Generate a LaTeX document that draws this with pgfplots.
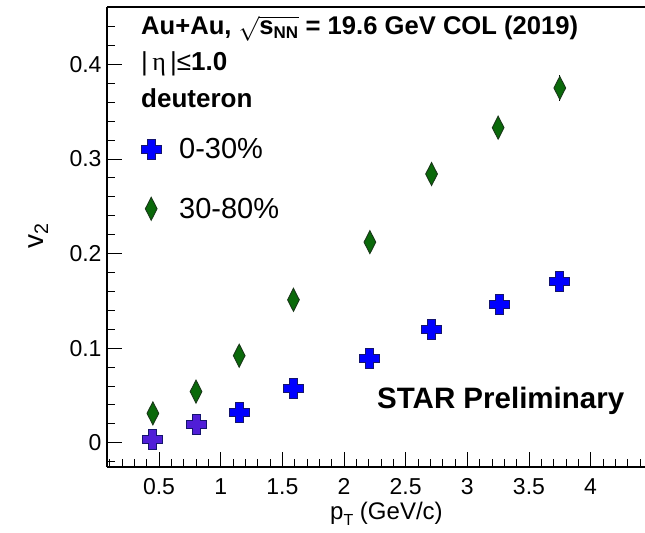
\documentclass[border=0pt]{standalone}
\usepackage{pgfplots}
\pgfplotsset{compat=1.18}
\usepackage{fontspec}
\setmainfont{Liberation Sans}
\newfontfamily\greekfont{Liberation Serif}

% filled cross outline (ROOT style marker)
\pgfdeclareplotmark{fullcross}{%
  \pgfpathmoveto{\pgfqpoint{-0.4\pgfplotmarksize}{\pgfplotmarksize}}%
  \pgfpathlineto{\pgfqpoint{0.4\pgfplotmarksize}{\pgfplotmarksize}}%
  \pgfpathlineto{\pgfqpoint{0.4\pgfplotmarksize}{0.4\pgfplotmarksize}}%
  \pgfpathlineto{\pgfqpoint{\pgfplotmarksize}{0.4\pgfplotmarksize}}%
  \pgfpathlineto{\pgfqpoint{\pgfplotmarksize}{-0.4\pgfplotmarksize}}%
  \pgfpathlineto{\pgfqpoint{0.4\pgfplotmarksize}{-0.4\pgfplotmarksize}}%
  \pgfpathlineto{\pgfqpoint{0.4\pgfplotmarksize}{-\pgfplotmarksize}}%
  \pgfpathlineto{\pgfqpoint{-0.4\pgfplotmarksize}{-\pgfplotmarksize}}%
  \pgfpathlineto{\pgfqpoint{-0.4\pgfplotmarksize}{-0.4\pgfplotmarksize}}%
  \pgfpathlineto{\pgfqpoint{-\pgfplotmarksize}{-0.4\pgfplotmarksize}}%
  \pgfpathlineto{\pgfqpoint{-\pgfplotmarksize}{0.4\pgfplotmarksize}}%
  \pgfpathlineto{\pgfqpoint{-0.4\pgfplotmarksize}{0.4\pgfplotmarksize}}%
  \pgfpathclose
  \pgfusepathqfillstroke
}

\definecolor{crossblue}{RGB}{0,0,255}
\definecolor{crosspurple}{RGB}{80,30,215}
\definecolor{crossedge}{RGB}{20,20,110}
\definecolor{diagreen}{RGB}{10,105,10}
\definecolor{diaedge}{RGB}{25,55,25}

% v2 vs pT, deuteron, 0-30% centrality
\pgfplotstableread{
pt    v2     err
0.45  0.003  0.004
0.80  0.019  0.004
1.15  0.032  0.004
1.59  0.057  0.004
2.21  0.089  0.005
2.71  0.120  0.006
3.26  0.146  0.007
3.75  0.170  0.008
}\central

% v2 vs pT, deuteron, 30-80% centrality
\pgfplotstableread{
pt    v2     err
0.45  0.031  0.004
0.80  0.054  0.005
1.15  0.092  0.005
1.59  0.151  0.006
2.21  0.212  0.007
2.71  0.284  0.008
3.25  0.333  0.009
3.75  0.375  0.014
}\peripheral

\begin{document}
\begin{tikzpicture}[x=1bp,y=1bp]
\useasboundingbox (0,0) rectangle (645,533);
\begin{axis}[
  at={(107bp,66bp)}, anchor=south west, scale only axis,
  width=557.6bp, height=460bp,
  xmin=0.078, xmax=4.6, ymin=-0.0257, ymax=0.4606,
  axis x line*=box, axis y line*=left,
  xtick={0.5,1,1.5,2,2.5,3,3.5,4},
  ytick={0,0.1,0.2,0.3,0.4},
  minor xtick={0.1,0.2,...,4.55},
  minor ytick={-0.02,0,...,0.45},
  tick align=inside, xtick pos=bottom, ytick pos=left,
  major tick length=15bp, minor tick length=8bp,
  axis line style={line width=1.2bp},
  every tick/.style={black, line width=0.8bp},
  /pgf/number format/assume math mode=true,
  /pgf/number format/fixed,
  tick label style={font=\fontsize{23bp}{25bp}\selectfont},
  xticklabel style={yshift=-8bp},
  yticklabel style={xshift=-2bp},
  legend style={draw=none, fill=none, at={(rel axis cs:0.061,0.7196)}, anchor=north west,
    font=\fontsize{29bp}{31bp}\selectfont, row sep=34bp, inner sep=0pt,
    /tikz/every odd column/.append style={column sep=16bp}},
  legend cell align=left,
  clip=false,
]
\addplot[only marks, mark=fullcross, mark size=10bp,
  mark options={fill=crossblue, draw=crossedge, line width=0.9bp},
  error bars/.cd, y dir=both, y explicit, error mark=none,
  error bar style={black, line width=0.8bp}]
  table[x=pt, y=v2, y error=err] {\central};
\addlegendentry{0-30\%}
\addplot[only marks, mark=diamond*, mark size=11.5bp,
  mark options={fill=diagreen, draw=diaedge, line width=0.9bp, xscale=0.68},
  error bars/.cd, y dir=both, y explicit, error mark=none,
  error bar style={black, line width=0.8bp}]
  table[x=pt, y=v2, y error=err] {\peripheral};
\addlegendentry{30-80\%}
% the two lowest-pT central points carry a purple tint
\addplot[forget plot, only marks, mark=fullcross, mark size=10bp,
  restrict x to domain=0:1,
  mark options={fill=crosspurple, draw=crossedge, line width=0.9bp}]
  table[x=pt, y=v2] {\central};
\end{axis}
% axis titles
\node[anchor=base west, font=\fontsize{24bp}{26bp}\selectfont, inner sep=0pt]
  at (330,13) {p\raisebox{-6bp}{\fontsize{16bp}{17bp}\selectfont T} (GeV/c)};
\node[anchor=base, rotate=90, font=\fontsize{28bp}{30bp}\selectfont, inner sep=0pt]
  at (43,297) {v\textsubscript{2}};
% collision system and cuts
\node[anchor=base west, font=\bfseries\fontsize{25.6bp}{28bp}\selectfont, inner sep=0pt]
  at (141,498) {Au+Au, $\sqrt{\mbox{\bfseries s}_{\mbox{\bfseries\fontsize{17bp}{18bp}\selectfont NN}}}$ = 19.6 GeV COL (2019)};
\node[anchor=base west, font=\fontsize{26bp}{28bp}\selectfont, inner sep=0pt]
  at (141,462) {|\,{\greekfont η}\,|≤\textbf{1.0}};
\node[anchor=base west, font=\bfseries\fontsize{26bp}{28bp}\selectfont, inner sep=0pt]
  at (141,425) {deuteron};
\node[anchor=base west, font=\bfseries\fontsize{29.5bp}{31bp}\selectfont, inner sep=0pt]
  at (377,124) {STAR Preliminary};
\end{tikzpicture}
\end{document}
